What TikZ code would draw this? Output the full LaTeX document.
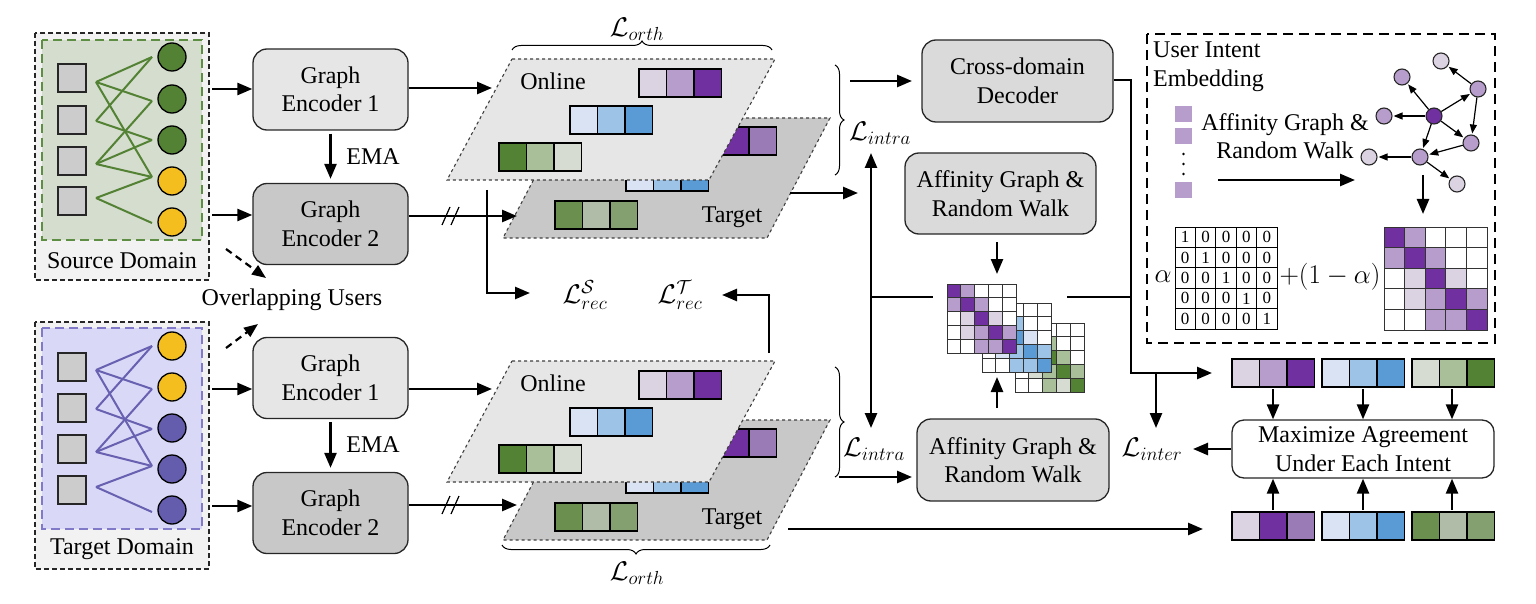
\RequirePackage{fix-cm}
\documentclass[tikz,border=0pt]{standalone}
\usepackage[no-math]{fontspec}
\setmainfont{Liberation Serif}
\newfontfamily\tms{Liberation Serif}
\usetikzlibrary{arrows.meta,decorations.pathreplacing}
\definecolor{P1}{RGB}{220,211,226}
\definecolor{P2}{RGB}{183,157,203}
\definecolor{P3}{RGB}{112,48,160}
\definecolor{P4}{RGB}{155,123,181}
\definecolor{B1}{RGB}{218,227,243}
\definecolor{B2}{RGB}{157,195,230}
\definecolor{B3}{RGB}{91,155,213}
\definecolor{G1}{RGB}{214,220,210}
\definecolor{G2}{RGB}{169,191,154}
\definecolor{G3}{RGB}{84,130,53}
\definecolor{G4}{RGB}{106,143,79}
\definecolor{G5}{RGB}{176,187,168}
\definecolor{G6}{RGB}{133,160,112}
\definecolor{W}{RGB}{255,255,255}
\definecolor{OB}{RGB}{242,242,242}
\definecolor{SGf}{RGB}{213,222,206}
\definecolor{SGd}{RGB}{94,142,68}
\definecolor{TPf}{RGB}{217,217,247}
\definecolor{TPd}{RGB}{128,122,200}
\definecolor{TPl}{RGB}{104,96,176}
\definecolor{TPc}{RGB}{100,92,172}
\definecolor{YL}{RGB}{244,190,30}
\definecolor{SQ}{RGB}{204,204,204}
\definecolor{E1}{RGB}{230,230,230}
\definecolor{E2}{RGB}{200,200,200}
\definecolor{DG}{RGB}{218,218,218}
\definecolor{PO}{RGB}{230,230,230}
\definecolor{PT}{RGB}{200,200,200}
\newcommand\vrow[5]{%
  \foreach \cc [count=\kk from 0] in {#3,#4,#5}
    {\filldraw[fill=\cc,draw=black,line width=1.1pt] ({#1+\kk*27.5},{#2}) rectangle ++(27.5,28);}}
\newcommand\gmat[4]{%
  \foreach \rw [count=\rr from 0] in {#4}
    {\foreach \cc [count=\kk from 0] in \rw
      {\filldraw[fill=\cc,draw=black!80,line width=0.9pt] ({#1+\kk*#3},{#2+\rr*#3}) rectangle ++(#3,#3);}}}
\newcommand\planeset{%
  \filldraw[fill=PT,draw=black!75,dashed,line width=1.1pt] (566,118) -- (830,118) -- (767,238) -- (503,238) -- cycle;
  \vrow{694}{127}{P1}{P3}{P4}
  \vrow{626}{163}{B1}{B2}{B3}
  \vrow{555}{201}{G4}{G5}{G6}
  \node at (732,217) {Target};
  \filldraw[fill=PO,draw=black!75,dashed,line width=1.1pt] (512,59) -- (775,59) -- (709,180) -- (447,180) -- cycle;
  \vrow{639}{69}{P1}{P2}{P3}
  \vrow{570}{106}{B1}{B2}{B3}
  \vrow{499}{143}{G3}{G2}{G1}
  \node at (553,81) {Online};
}
\begin{document}
\begin{tikzpicture}[x=1pt,y=-1pt,font=\tms\fontsize{24}{28.5}\selectfont,
  box/.style={draw=black!85,line width=1.3pt,rounded corners=14pt,align=center,inner sep=0pt},
  encbox/.style={box,minimum width=155pt,minimum height=81pt},
  arr/.style={line width=2.5pt,-{Triangle[length=15pt,width=12pt]}},
  ln/.style={line width=2.5pt},
  mlab/.style={font=\fontsize{27}{30}\selectfont,inner sep=0pt},
  gn/.style={circle,draw=black!85,line width=1.1pt,minimum size=16pt,inner sep=0pt},
  garr/.style={line width=1.2pt,-{Triangle[length=9pt,width=7pt]},shorten >=1pt},
  brc/.style={decorate,decoration={brace,amplitude=9pt},line width=1pt}]
\useasboundingbox (0,0) rectangle (1536,604);

% ---------- source domain ----------
\filldraw[fill=OB,draw=black!85,dash pattern=on 5pt off 3pt,line width=1.2pt] (35,33) rectangle (209,280);
\filldraw[fill=SGf,draw=SGd,dash pattern=on 9pt off 5pt,line width=2.2pt] (42,40) rectangle (202,240);
\foreach \y in {64,106,147,187} \filldraw[fill=SQ,draw=black!85,line width=1.2pt] (58,\y) rectangle ++(28,28);
\foreach \i/\y in {1/82,2/121,3/164,4/198} \coordinate (sl\i) at (96,\y);
\foreach \i/\y in {1/57,2/101,3/140,4/177,5/223} \coordinate (sr\i) at (152,\y);
\foreach \a/\b in {1/1,1/2,1/4,2/1,2/3,3/2,3/3,3/4,4/4,4/5} \draw[line width=2pt,G3] (sl\a) -- (sr\b);
\foreach \y/\c in {57/G3,99/G3,140/G3,181/YL,222/YL} \filldraw[fill=\c,draw=black,line width=1.3pt] (172,\y) circle (14pt);
\node (srcl) at (122,261) {Source Domain};

% ---------- target domain ----------
\filldraw[fill=OB,draw=black!85,dash pattern=on 5pt off 3pt,line width=1.2pt] (35,322) rectangle (209,569);
\filldraw[fill=TPf,draw=TPd,dash pattern=on 9pt off 5pt,line width=2.2pt] (42,328) rectangle (202,529);
\foreach \y in {353,394,435,476} \filldraw[fill=SQ,draw=black!85,line width=1.2pt] (58,\y) rectangle ++(28,28);
\foreach \i/\y in {1/370,2/409,3/452,4/487} \coordinate (tl\i) at (96,\y);
\foreach \i/\y in {1/346,2/389,3/429,4/466,5/512} \coordinate (tr\i) at (152,\y);
\foreach \a/\b in {1/1,1/2,1/4,2/1,2/3,3/2,3/3,3/4,4/4,4/5} \draw[line width=2pt,TPl] (tl\a) -- (tr\b);
\foreach \y/\c in {346/YL,387/YL,428/TPc,469/TPc,510/TPc} \filldraw[fill=\c,draw=black,line width=1.3pt] (172,\y) circle (14pt);
\node (tgtl) at (122,549) {Target Domain};

% ---------- encoders ----------
\node[encbox,fill=E1] (se1) at (330.5,89.5) {Graph\\Encoder 1};
\node[encbox,fill=E2] (se2) at (330.5,224) {Graph\\Encoder 2};
\node[encbox,fill=E1] (te1) at (330.5,378) {Graph\\Encoder 1};
\node[encbox,fill=E2] (te2) at (330.5,513) {Graph\\Encoder 2};
\draw[arr,shorten <=3pt,shorten >=4pt] (se1.south) -- (se2.north);
\draw[arr,shorten <=3pt,shorten >=4pt] (te1.south) -- (te2.north);
\node at (373,157) {EMA};
\node at (373,445) {EMA};
\draw[arr] (212,89) -- (se1.west |- 0,89);
\draw[arr] (212,215) -- (se2.west |- 0,215);
\draw[arr] (212,389) -- (te1.west |- 0,389);
\draw[arr] (212,506) -- (te2.west |- 0,506);
\node (ov) at (292,300) {Overlapping Users};
\draw[line width=2.2pt,dash pattern=on 7pt off 5pt,-{Triangle[length=14pt,width=11pt]}] (226,249) -- (266,278);
\draw[line width=2.2pt,dash pattern=on 7pt off 5pt,-{Triangle[length=14pt,width=11pt]}] (226,348) -- (258,324);

% ---------- planes ----------
\planeset
\begin{scope}[yshift=-302pt]\planeset\end{scope}

\draw[arr] (se1.east |- 0,88) -- (492,88);
\draw[arr] (se2.east |- 0,216) -- (517,216);
\draw[arr] (te1.east |- 0,389) -- (492,389);
\draw[arr] (te2.east |- 0,505) -- (517,505);
\foreach \x in {446,455} {\draw[line width=1.2pt] (\x-4,225) -- (\x+4,207); \draw[line width=1.2pt] (\x-4,514) -- (\x+4,496);}

% reconstruction losses
\node[mlab] (lrs) at (585,295) {$\mathcal{L}^{\mathcal{S}}_{rec}$};
\node[mlab] (lrt) at (680,295) {$\mathcal{L}^{\mathcal{T}}_{rec}$};
\draw[ln] (487,190) -- (487,293);
\draw[arr] (485.75,293) -- (530,293);
\draw[ln] (769,353) -- (769,295);
\draw[arr] (770.25,295) -- (722,295);

% braces
\draw[brc] (512,50) -- (772,50);
\node[mlab] at (637,29) {$\mathcal{L}_{orth}$};
\draw[brc,decoration={mirror}] (502,545) -- (770,545);
\node[mlab] at (637,573) {$\mathcal{L}_{orth}$};
\draw[brc] (835,65) -- (835,175);
\node[mlab] (li1) at (880,133) {$\mathcal{L}_{intra}$};
\draw[brc] (835,367) -- (835,477);
\node[mlab] (li2) at (874,449) {$\mathcal{L}_{intra}$};

% ---------- middle column ----------
\node[box,fill=DG,minimum width=191pt,minimum height=82pt] (dec) at (1017.5,81) {Cross-domain\\Decoder};
\node[box,fill=DG,minimum width=191pt,minimum height=81pt] (aff1) at (1000.5,193.5) {Affinity Graph \&\\Random Walk};
\node[box,fill=DG,minimum width=192pt,minimum height=82pt] (aff2) at (1013,460) {Affinity Graph \&\\Random Walk};
\draw[arr] (850,81) -- (912,81);
\draw[arr] (790,193) -- (858,193);
\draw[arr] (839,477) -- (912,477);
\draw[arr] (788,529) -- (1203,529);
\draw[line width=2.5pt,{Triangle[length=15pt,width=12pt]}-{Triangle[length=15pt,width=12pt]}] (871,153) -- (871,428);
\draw[ln] (871,297) -- (933,297);
\draw[ln] (1067,297) -- (1131,297);
\draw[ln] (dec.east |- 0,80) -- (1131,80) -- (1131,373);
\draw[arr] (1129.75,373) -- (1212,373);
\draw[arr] (1156,373) -- (1156,428);
\draw[arr] (997,242) -- (997,274);
\draw[arr] (997,408) -- (997,377);

% matrices
\gmat{1015}{323}{13.8}{{G3,G2,W,W,W},{G2,G3,G2,W,W},{W,G1,G3,G2,W},{W,G1,G2,G3,G2},{W,W,G2,G1,G3}}
\gmat{982}{303}{13.8}{{B3,B2,W,W,W},{B2,B3,B2,W,W},{W,B1,B3,B1,W},{W,B1,B2,B3,B2},{W,W,B2,B2,B3}}
\gmat{947}{284}{13.8}{{P3,P2,W,W,W},{P2,P3,P2,W,W},{W,P1,P3,P1,W},{W,P1,P2,P3,P2},{W,W,P2,P2,P3}}

% ---------- user intent box ----------
\draw[dash pattern=on 10pt off 6pt,line width=2.4pt] (1147,34) rectangle (1495,343);
\node[anchor=west,align=left,inner sep=0pt] (uie) at (1153,66.5) {User Intent\\Embedding};
\foreach \y in {106,128,182} \fill[P2] (1175,\y) rectangle ++(17,16);
\foreach \y in {154,164,174} \fill[black] (1183.5,\y) circle (1.3pt);
\node[align=center,inner sep=0pt] (agt) at (1285,136) {Affinity Graph \&\\Random Walk};
\draw[arr] (1218,180) -- (1355,180);
\node[gn,fill=P3] (gc) at (1434,116) {};
\node[gn,fill=P2] (ga) at (1402,77) {};
\node[gn,fill=P1] (gb) at (1441,61) {};
\node[gn,fill=P2] (gd) at (1478,89) {};
\node[gn,fill=P2] (ge) at (1384,116) {};
\node[gn,fill=P2] (gf) at (1471,143) {};
\node[gn,fill=P2] (gg) at (1420,157) {};
\node[gn,fill=P1] (gh) at (1369,157) {};
\node[gn,fill=P1] (gi) at (1457,184) {};
\foreach \a/\b in {gc/ga,gc/gd,gc/ge,gc/gf,gc/gg,gd/gb,gd/gf,gf/gg,gg/gh,gg/gi} \draw[garr] (\a) -- (\b);
\draw[arr] (1423,175) -- (1423,214);
% identity matrix
\foreach \r in {0,...,4} \foreach \c in {0,...,4} {
  \pgfmathtruncatemacro\vv{\r==\c ? 1 : 0}
  \draw[line width=1pt] ({1175+\c*20.4},{227+\r*20.4}) rectangle ++(20.4,20.4);
  \node[font=\tms\fontsize{17}{20}\selectfont,inner sep=0pt] at ({1185.2+\c*20.4},{237.2+\r*20.4}) {\vv};
}
\node[mlab] at (1163,277) {$\alpha$};
\node[mlab] at (1330,277) {$+(1-\alpha)$};
\gmat{1384}{227}{20.6}{{P3,P2,W,W,W},{P2,P3,P2,W,W},{W,P1,P3,P1,W},{W,P1,P2,P3,P2},{W,W,P2,P2,P3}}

% ---------- agreement ----------
\vrow{1232}{359}{P1}{P2}{P3}
\vrow{1322}{359}{B1}{B2}{B3}
\vrow{1412}{359}{G1}{G2}{G3}
\vrow{1232}{512}{P1}{P3}{P4}
\vrow{1322}{512}{B1}{B2}{B3}
\vrow{1412}{512}{G4}{G5}{G6}
\node[box,fill=white,rounded corners=12pt,minimum width=262pt,minimum height=58pt] (max) at (1363,449) {Maximize Agreement\\Under Each Intent};
\foreach \x in {1273,1363,1452} {\draw[arr] (\x,389) -- (max.north -| \x,0); \draw[arr] (\x,510) -- (max.south -| \x,0);}
\node[mlab] (lint) at (1152,449) {$\mathcal{L}_{inter}$};
\draw[arr] (max.west) -- (1193,449);
\end{tikzpicture}
\end{document}
